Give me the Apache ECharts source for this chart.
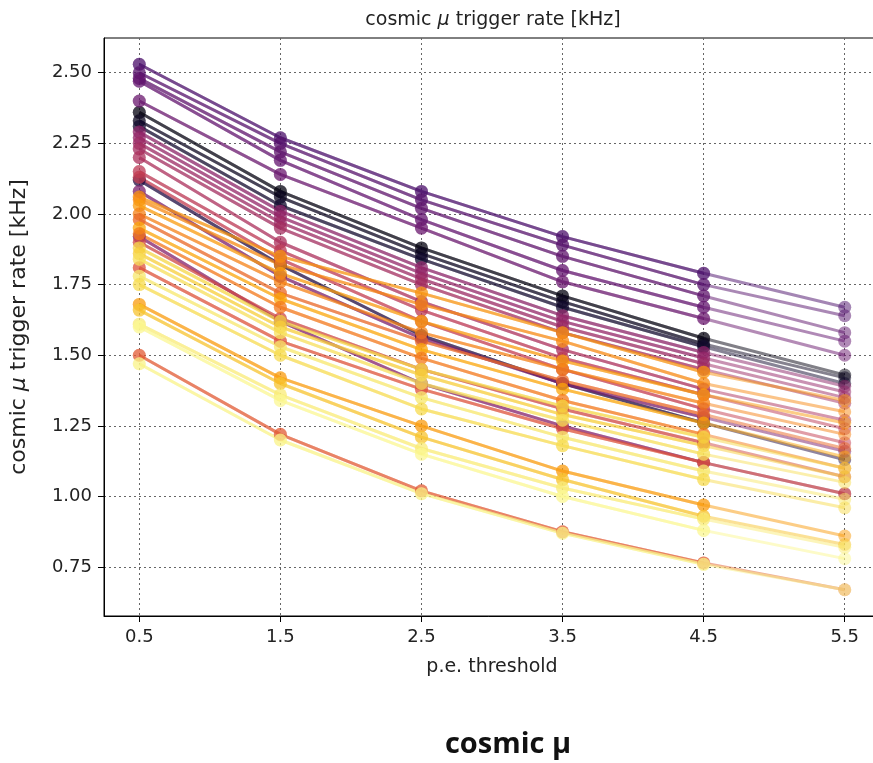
<!DOCTYPE html>
<html>
<head>
<meta charset="utf-8">
<script src="https://cdn.jsdelivr.net/npm/echarts@6/dist/echarts.min.js"></script>
<style>html,body{margin:0;padding:0;background:#fff;}#c{width:873px;height:763px;}</style>
</head>
<body>
<div id="c"></div>
<script>
// p.e. thresholds
const thresholds = [0.5, 1.5, 2.5, 3.5, 4.5, 5.5];
const xTickLabels = ['0.5', '1.5', '2.5', '3.5', '4.5', '5.5'];
const yTickValues = [0.75, 1.00, 1.25, 1.50, 1.75, 2.00, 2.25, 2.50];

// trigger rate [kHz] per line, one value per threshold
const rateP1 = [2.53, 2.27, 2.08, 1.92, 1.79, 1.67];
const rateP2 = [2.50, 2.25, 2.05, 1.89, 1.75, 1.64];
const rateP3 = [2.48, 2.22, 2.02, 1.85, 1.71, 1.58];
const rateP4 = [2.47, 2.19, 1.98, 1.80, 1.67, 1.55];
const rateP5 = [2.40, 2.14, 1.95, 1.76, 1.63, 1.50];
const rateK1 = [2.36, 2.08, 1.88, 1.71, 1.56, 1.43];
const rateK2 = [2.33, 2.06, 1.86, 1.69, 1.54, 1.42];
const rateK3 = [2.31, 2.03, 1.84, 1.67, 1.53, 1.40];
const rateM1 = [2.29, 2.01, 1.81, 1.64, 1.51, 1.39];
const rateM2 = [2.27, 1.99, 1.79, 1.62, 1.49, 1.37];
const rateM3 = [2.25, 1.97, 1.77, 1.60, 1.47, 1.35];
const rateM4 = [2.23, 1.95, 1.75, 1.58, 1.45, 1.33];
const rateM5 = [2.20, 1.90, 1.69, 1.52, 1.38, 1.27];
const rateR1 = [2.15, 1.87, 1.66, 1.49, 1.36, 1.24];
const rateR2 = [2.13, 1.84, 1.62, 1.45, 1.31, 1.19];
const rateK4 = [2.12, 1.82, 1.57, 1.40, 1.26, 1.13];
const rateM6 = [2.08, 1.78, 1.56, 1.40, 1.28, 1.16];
const rateO1 = [2.06, 1.85, 1.72, 1.58, 1.44, 1.34];
const rateO2 = [2.05, 1.82, 1.68, 1.55, 1.40, 1.30];
const rateO3 = [2.03, 1.79, 1.62, 1.48, 1.36, 1.26];
const rateO4 = [2.00, 1.76, 1.58, 1.45, 1.33, 1.22];
const rateO5 = [1.98, 1.72, 1.55, 1.41, 1.29, 1.17];
const rateO6 = [1.95, 1.70, 1.52, 1.38, 1.26, 1.14];
const rateO7 = [1.93, 1.67, 1.49, 1.34, 1.22, 1.10];
const rateM7 = [1.92, 1.62, 1.40, 1.25, 1.12, 1.01];
const rateRd1 = [1.90, 1.63, 1.45, 1.31, 1.19, 1.07];
const rateY1 = [1.88, 1.62, 1.45, 1.32, 1.21, 1.10];
const rateY2 = [1.86, 1.60, 1.43, 1.29, 1.18, 1.07];
const rateY3 = [1.84, 1.58, 1.40, 1.27, 1.15, 1.05];
const rateRd2 = [1.81, 1.55, 1.38, 1.24, 1.12, 1.01];
const rateY4 = [1.78, 1.53, 1.35, 1.21, 1.09, 0.99];
const rateY5 = [1.75, 1.50, 1.31, 1.18, 1.06, 0.96];
const rateO8 = [1.68, 1.42, 1.25, 1.09, 0.97, 0.86];
const rateY6 = [1.66, 1.40, 1.21, 1.06, 0.93, 0.83];
const rateY7 = [1.61, 1.36, 1.17, 1.03, 0.92, 0.82];
const rateY8 = [1.60, 1.34, 1.15, 1.00, 0.88, 0.78];
const rateB1 = [1.50, 1.22, 1.02, 0.875, 0.765, 0.67];
const rateB2 = [1.47, 1.20, 1.01, 0.87, 0.76, 0.67];

const lines = [rateK1, rateK2, rateK3, rateK4, rateP1, rateP2, rateP3, rateP4, rateP5,
  rateM1, rateM2, rateM3, rateM4, rateM5, rateM6, rateM7, rateR1, rateR2, rateRd1, rateRd2,
  rateO1, rateO2, rateO3, rateO4, rateO5, rateO6, rateO7, rateO8,
  rateY1, rateY2, rateY3, rateY4, rateY5, rateY6, rateY7, rateY8, rateB1, rateB2];
// colormap position (inferno) for each line, same order — style only
const cmapPos = [0.02, 0.05, 0.08, 0.12, 0.22, 0.25, 0.27, 0.28, 0.30,
  0.38, 0.40, 0.42, 0.44, 0.46, 0.34, 0.36, 0.50, 0.52, 0.56, 0.60,
  0.76, 0.74, 0.78, 0.72, 0.66, 0.80, 0.70, 0.78,
  0.90, 0.88, 0.92, 0.94, 0.91, 0.86, 0.95, 0.98, 0.62, 0.97];

const infernoStops = ['#000004','#160b39','#420a68','#6a176e','#932667','#bc3754','#dd513a','#f37819','#fca50a','#f6d746','#fcffa4'];
function hex2rgb(h){return [parseInt(h.substr(1,2),16),parseInt(h.substr(3,2),16),parseInt(h.substr(5,2),16)];}
function inferno(t){
  const s = t*10, i = Math.min(9, Math.floor(s)), f = s - i;
  const a = hex2rgb(infernoStops[i]), b = hex2rgb(infernoStops[i+1]);
  const c = a.map((v,k)=>Math.round(v + (b[k]-v)*f));
  return 'rgb(' + c.join(',') + ')';
}

const series = [];
lines.forEach((vals, i) => {
  const col = inferno(cmapPos[i]);
  const full = thresholds.map((x, j) => [x, vals[j]]);
  series.push({
    type: 'line', data: full, color: col, symbol: 'circle', symbolSize: 13,
    lineStyle: {width: 3, opacity: 0.5}, itemStyle: {opacity: 0.5},
    emphasis: {disabled: true}, silent: true, z: 2
  });
  series.push({
    type: 'line', data: full.slice(0, 5), color: col, symbol: 'circle', symbolSize: 13,
    lineStyle: {width: 3, opacity: 0.5}, itemStyle: {opacity: 0.5},
    emphasis: {disabled: true}, silent: true, z: 2
  });
});

const font = 'DejaVu Sans';
const chart = echarts.init(document.getElementById('c'), null, {renderer: 'canvas'});
chart.setOption({
  animation: false,
  backgroundColor: '#fff',
  title: [
    {text: 'cosmic {i|μ} trigger rate [kHz]', left: 488, top: 6, textAlign: 'center',
     textStyle: {fontFamily: font, fontSize: 19, fontWeight: 'normal', color: '#222',
       rich: {i: {fontFamily: font, fontStyle: 'italic', fontSize: 19, color: '#222'}}}},
    {text: 'cosmic μ', left: 503, top: 725, textAlign: 'center',
     textStyle: {fontFamily: 'Open Sans', fontSize: 29, fontWeight: 'bold', color: '#111'}}
  ],
  grid: {left: 104, top: 38, width: 776, height: 578, outerBoundsMode: 'none',
    show: true, borderColor: '#000', borderWidth: 1, backgroundColor: 'transparent'},
  xAxis: {
    type: 'value', min: 0.25, max: 5.75,
    name: 'p.e. threshold', nameLocation: 'middle', nameGap: 42,
    nameTextStyle: {fontFamily: font, fontSize: 19, color: '#222'},
    axisLine: {show: true, onZero: false, lineStyle: {color: '#000', width: 1}},
    axisTick: {show: true, inside: false, length: 6, customValues: thresholds, lineStyle: {color: '#000'}},
    axisLabel: {customValues: thresholds, margin: 12, fontFamily: font, fontSize: 18, color: '#222',
      formatter: v => xTickLabels[thresholds.indexOf(v)] ?? ''},
    splitLine: {show: true, lineStyle: {type: [2, 3], color: '#666', width: 1}}
  },
  yAxis: {
    type: 'value', min: 0.577, max: 2.623,
    name: 'cosmic {i|μ} trigger rate [kHz]', nameLocation: 'middle', nameGap: 74, nameRotate: 90,
    nameTextStyle: {fontFamily: font, fontSize: 22, color: '#222',
      rich: {i: {fontFamily: font, fontStyle: 'italic', fontSize: 22, color: '#222'}}},
    axisLine: {show: true, onZero: false, lineStyle: {color: '#000', width: 1}},
    axisTick: {show: true, inside: false, length: 6, customValues: yTickValues, lineStyle: {color: '#000'}},
    axisLabel: {customValues: yTickValues, margin: 12, fontFamily: font, fontSize: 18, color: '#222',
      formatter: v => v.toFixed(2)},
    splitLine: {show: true, lineStyle: {type: [2, 3], color: '#666', width: 1}}
  },
  series: series
});
</script>
</body>
</html>
